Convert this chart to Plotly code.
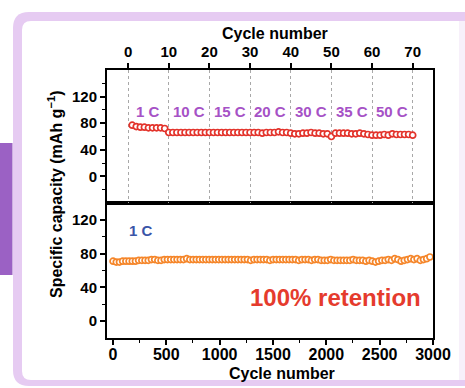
import plotly.graph_objects as go

# ---------------- data ----------------
top_cycles = list(range(1, 71))
top_capacity = [77, 75, 74, 74, 73, 73, 73, 73, 72,
                66, 66, 66, 66, 66, 66, 66, 66, 66, 66,
                66, 66, 66, 66, 66, 66, 66, 66, 66, 66,
                66, 66, 66, 65, 66, 66, 66, 67, 66, 66,
                65, 64, 64, 65, 65, 66, 65, 65, 64, 64,
                60, 65, 65, 65, 65, 64, 64, 65, 64, 63,
                62, 62, 62, 63, 62, 64, 63, 63, 63, 63,
                62]

bottom_cycles = list(range(1, 3000, 30))
bottom_capacity = [71, 70, 70, 71, 71, 71, 71, 71, 72, 72,
                   72, 72, 73, 73, 72, 72, 73, 73, 73, 73,
                   73, 73, 73, 74, 73, 73, 73, 73, 73, 73,
                   73, 73, 73, 73, 73, 73, 73, 73, 73, 73,
                   73, 73, 73, 72, 73, 73, 73, 73, 73, 72,
                   73, 73, 73, 73, 73, 73, 73, 73, 72, 73,
                   73, 73, 72, 73, 73, 72, 72, 72, 73, 72,
                   72, 72, 72, 72, 72, 73, 72, 72, 72, 71,
                   72, 71, 70, 71, 72, 72, 73, 72, 74, 73,
                   71, 72, 73, 74, 73, 74, 72, 73, 74, 76]

rate_labels = ["1 C", "10 C", "15 C", "20 C", "30 C", "35 C", "50 C"]
rate_label_cycles = [5, 15, 25, 35, 45, 55, 65]

top_xticks = [0, 10, 20, 30, 40, 50, 60, 70]
bottom_xticks = [0, 500, 1000, 1500, 2000, 2500, 3000]
y_ticks = [0, 40, 80, 120]

# ---------------- geometry helpers ----------------
W, H = 465, 388
FONT = "Liberation Sans, Arial, sans-serif"


def px(x):
    return x / W


def py(y):
    return 1 - y / H


def rrect(x0, y0, x1, y1, r):
    pts = [
        f"M {px(x0 + r)} {py(y0)}",
        f"L {px(x1 - r)} {py(y0)}",
        f"Q {px(x1)} {py(y0)} {px(x1)} {py(y0 + r)}",
        f"L {px(x1)} {py(y1 - r)}",
        f"Q {px(x1)} {py(y1)} {px(x1 - r)} {py(y1)}",
        f"L {px(x0 + r)} {py(y1)}",
        f"Q {px(x0)} {py(y1)} {px(x0)} {py(y1 - r)}",
        f"L {px(x0)} {py(y0 + r)}",
        f"Q {px(x0)} {py(y0)} {px(x0 + r)} {py(y0)}",
        "Z",
    ]
    return " ".join(pts)


fig = go.Figure()

fig.add_trace(go.Scatter(
    x=bottom_cycles, y=bottom_capacity, xaxis="x", yaxis="y",
    mode="markers",
    marker=dict(symbol="circle", size=6, color="white",
                line=dict(color="#f5862a", width=1.7)),
    showlegend=False, cliponaxis=False,
))
fig.add_trace(go.Scatter(
    x=top_cycles, y=top_capacity, xaxis="x2", yaxis="y2",
    mode="markers",
    marker=dict(symbol="circle", size=6, color="white",
                line=dict(color="#e3332b", width=1.7)),
    showlegend=False,
))

axis_common = dict(showline=True, linecolor="black", linewidth=2, mirror=True,
                   ticks="outside", ticklen=5, tickwidth=1.5, tickcolor="black",
                   zeroline=False, automargin=False)

fig.update_layout(
    width=W, height=H,
    autosize=False,
    margin=dict(l=0, r=0, t=0, b=0, pad=0),
    paper_bgcolor="white", plot_bgcolor="rgba(0,0,0,0)",
    font=dict(family=FONT, color="black"),
    xaxis=dict(domain=[px(107), px(433)], anchor="y", range=[-56, 3000],
               tickvals=bottom_xticks, showgrid=False, ticklabelstandoff=-4,
               tickfont=dict(size=16, weight="bold"),
               minor=dict(ticks="outside", tickvals=[250, 750, 1250, 1750, 2250, 2750],
                          ticklen=3, tickwidth=1.2, tickcolor="black"),
               **axis_common),
    yaxis=dict(domain=[py(338), py(203)], anchor="x", range=[-20, 140],
               tickvals=y_ticks, showgrid=False,
               tickfont=dict(size=15, weight="bold"),
               minor=dict(ticks="outside", tickvals=[20, 60, 100],
                          ticklen=3, tickwidth=1.2, tickcolor="black"),
               **axis_common),
    xaxis2=dict(domain=[px(107), px(433)], anchor="y2", side="top",
                range=[-5.2, 75], tickvals=top_xticks,
                showgrid=True, gridcolor="#a8a8a8", griddash="dot", gridwidth=1,
                tickfont=dict(size=15, weight="bold"),
                **axis_common),
    yaxis2=dict(domain=[py(203), py(70)], anchor="x2", range=[-40, 160],
                tickvals=y_ticks, showgrid=False,
                tickfont=dict(size=15, weight="bold"),
                minor=dict(ticks="outside", tickvals=[-20, 20, 60, 100, 140],
                           ticklen=3, tickwidth=1.2, tickcolor="black"),
                **axis_common),
)

# decorative frame
fig.add_shape(type="path", path=rrect(13, 12, 490, 386, 16), xref="paper", yref="paper",
              fillcolor="#e6cbf2", line=dict(width=0), layer="below")
fig.add_shape(type="path", path=rrect(22, 21, 490, 380, 9), xref="paper", yref="paper",
              fillcolor="white", line=dict(width=0), layer="below")
fig.add_shape(type="rect", x0=px(459), x1=px(465), y0=py(380), y1=py(21),
              xref="paper", yref="paper", fillcolor="#f7f0fa",
              line=dict(width=0), layer="below")
fig.add_shape(type="rect", x0=px(0), x1=px(12.5), y0=py(275), y1=py(143),
              xref="paper", yref="paper", fillcolor="#9b61c4",
              line=dict(width=0), layer="below")

C = dict(xanchor="center", yanchor="middle", showarrow=False)

# titles
fig.add_annotation(text="<b>Cycle number</b>", x=px(275), y=py(33), xref="paper", yref="paper",
                   font=dict(size=16, family=FONT, color="black"), **C)
fig.add_annotation(text="<b>Cycle number</b>", x=px(282), y=py(373), xref="paper", yref="paper",
                   font=dict(size=16, family=FONT, color="black"), **C)
fig.add_annotation(text="<b>Specific capacity (mAh g<sup>\u22121</sup>)</b>", x=px(55), y=py(195),
                   xref="paper", yref="paper", textangle=-90,
                   font=dict(size=16, family=FONT, color="black"), **C)

# rate labels
for lab, c in zip(rate_labels, rate_label_cycles):
    fig.add_annotation(text=f"<b>{lab}</b>", x=c, y=98, xref="x2", yref="y2",
                       font=dict(size=15, family=FONT, color="#a652c6"), **C)

fig.add_annotation(text="<b>1 C</b>", x=262, y=107, xref="x", yref="y",
                   font=dict(size=15, family=FONT, color="#3a55a8"), **C)
fig.add_annotation(text="<b>100% retention</b>", x=px(335), y=py(297), xref="paper", yref="paper",
                   font=dict(size=24, family=FONT, color="#e53b2d"), **C)

fig.write_html(
    "out.html",
    config={"responsive": False, "displayModeBar": False},
    post_script=("document.documentElement.style.overflow='hidden';"
                 "document.body.style.margin='0';document.body.style.overflow='hidden';"),
)
